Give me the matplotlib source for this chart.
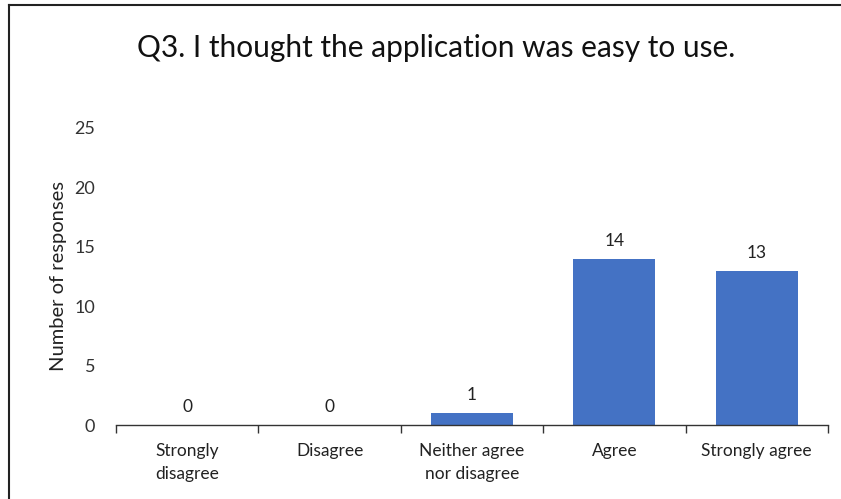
import matplotlib.pyplot as plt
from matplotlib.lines import Line2D

plt.rcParams['font.family'] = ['Lato', 'DejaVu Sans']

# data
categories = ["Strongly\ndisagree", "Disagree", "Neither agree\nnor disagree", "Agree", "Strongly agree"]
responses = [0, 0, 1, 14, 13]
y_ticks = [0, 5, 10, 15, 20, 25]
title = "Q3. I thought the application was easy to use."

W, H = 841, 499
fig = plt.figure(figsize=(W / 100, H / 100), dpi=100)
ax = fig.add_axes([116 / W, 1 - 425 / H, (828 - 116) / W, (425 - 128) / H])

x = list(range(len(categories)))
bars = ax.bar(x, responses, width=0.576, color='#4472C4')

for xi, v in zip(x, responses):
    ax.annotate(str(v), (xi, v), textcoords="offset points", xytext=(0, 7),
                ha='center', va='bottom', fontsize=12.5, color='#222222')

ax.set_xlim(-0.5, len(categories) - 0.5)
ax.set_ylim(0, 25)
ax.set_yticks(y_ticks)
ax.tick_params(axis='y', length=0, labelsize=13, pad=15, colors='#333333')

# category labels centred, ticks at the category boundaries
ax.set_xticks(x)
ax.set_xticklabels(categories, fontsize=12.5, color='#222222', linespacing=1.55)
ax.tick_params(axis='x', which='major', length=0, pad=13)
ax.set_xticks([i - 0.5 for i in range(len(categories) + 1)], minor=True)
ax.tick_params(axis='x', which='minor', length=6, width=1, color='#333333', direction='out')

for side in ['top', 'right', 'left']:
    ax.spines[side].set_visible(False)
ax.spines['bottom'].set_color('#333333')
ax.spines['bottom'].set_linewidth(1)

ax.set_ylabel("Number of responses", fontsize=14.5, color='#222222', labelpad=5)
fig.text(436 / W, 1 - 48 / H, title, ha='center', va='center', fontsize=21.5, color='#111111')

# chart frame: only the top and left edges show in the crop
fig.lines.append(Line2D([9 / W, 1], [1 - 5 / H, 1 - 5 / H], transform=fig.transFigure,
                        color='#222222', linewidth=1.5))
fig.lines.append(Line2D([9 / W, 9 / W], [0, 1 - 5 / H], transform=fig.transFigure,
                        color='#222222', linewidth=1.5))

fig.savefig("out.png", dpi=100)
